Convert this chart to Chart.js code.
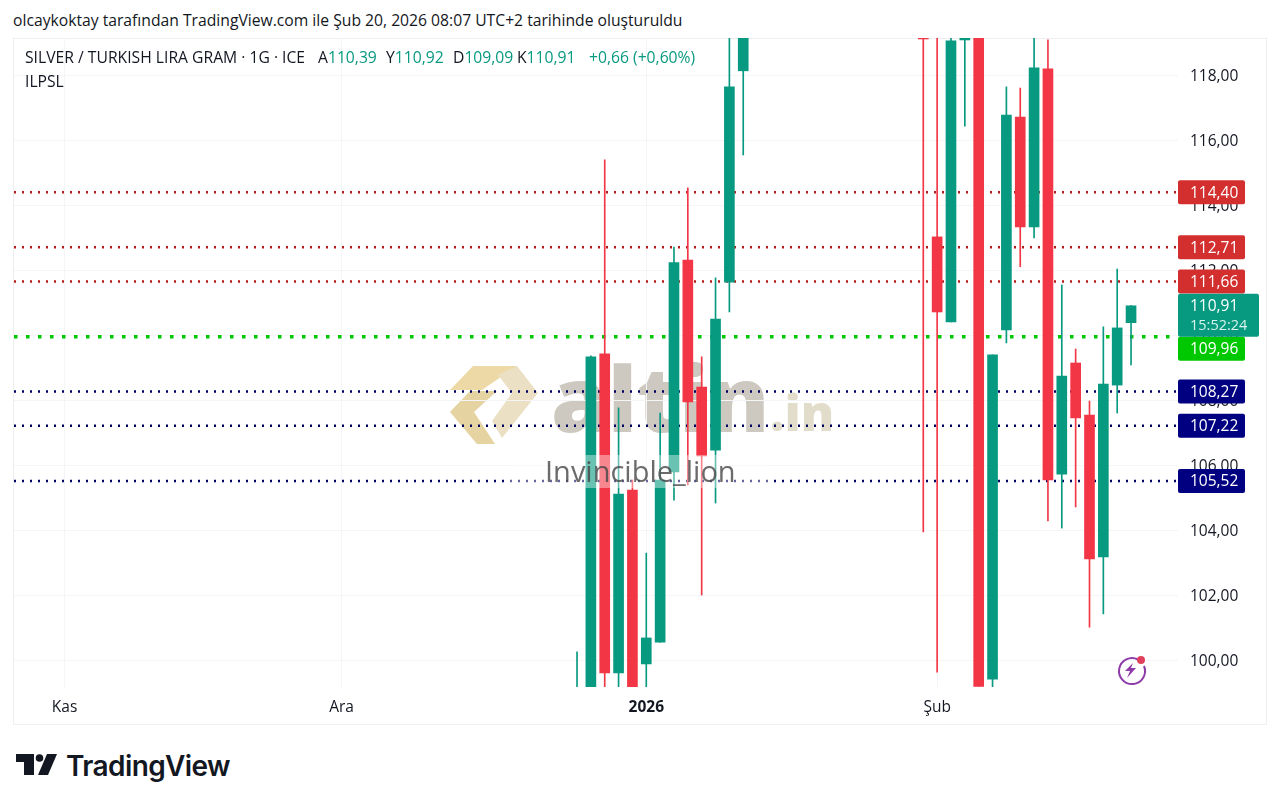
<!DOCTYPE html>
<html lang="tr">
<head>
<meta charset="utf-8">
<title>SILVER / TURKISH LIRA GRAM</title>
<script src="https://cdn.jsdelivr.net/npm/chart.js@4"></script>
<style>
  html, body { margin: 0; background: #fff; }
  body { position: relative; width: 1280px; height: 806px; overflow: hidden; font-family: 'Open Sans', sans-serif; color: #131722; }
  .abs { position: absolute; white-space: nowrap; }
  #chart { position: absolute; left: 0; top: 0; z-index: 2; }
  #panel { position: absolute; left: 13px; top: 38px; width: 1252px; height: 685px; border: 1px solid #efefef; }
  #created { left: 13px; top: 10px; font-size: 15.7px; line-height: 21px; }
  #legend { left: 25px; top: 47px; font-size: 15.7px; line-height: 21px; z-index: 3; }
  #legend b { font-weight: 400; color: #089981; }
  #legend span { position: absolute; top: 0; }
  #study { left: 25px; top: 71px; font-size: 15.7px; line-height: 21px; z-index: 3; }
  #wm-altin { left: 551px; top: 342px; font: 800 91px/110px 'Open Sans', sans-serif; color: #cdc9c0; z-index: 1; }
  #wm-in { left: 770px; top: 382px; font: 800 50px/60px 'Open Sans', sans-serif; color: #e2dccb; z-index: 1; }
  #wm-logo { left: 450px; top: 366px; z-index: 1; }
  #band { left: 508px; top: 455px; width: 260px; height: 33px; background: rgba(255,255,255,.4); z-index: 3; }
  #wm-user { left: 545px; top: 453px; font-size: 29px; line-height: 36px; color: rgba(70,70,70,.8); z-index: 4; }
  #tv-text { left: 66px; top: 747px; font: 600 28px/38px Inter, sans-serif; letter-spacing: -.6px; color: #131722; }
</style>
</head>
<body>
<div id="panel"></div>
<div class="abs" id="created">olcaykoktay tarafından TradingView.com ile Şub 20, 2026 08:07 UTC+2 tarihinde oluşturuldu</div>

<svg class="abs" id="wm-logo" width="90" height="80" viewBox="0 0 90 80">
  <polygon points="23,0 67,0 32,24 0,24" fill="#ecd9a6"/>
  <polygon points="67,0 88,27 52,72 42,55 62,27 48,9" fill="#ece0c4"/>
  <polygon points="0,46 20,25 47,25 24,46 45,78 27,78" fill="#e6d3a2"/>
</svg>
<div class="abs" id="wm-altin">altin</div>
<div class="abs" id="wm-in">.in</div>

<canvas id="chart" width="1280" height="806"></canvas>

<div class="abs" id="legend">
  <span style="left:0">SILVER / TURKISH LIRA GRAM · 1G · ICE</span>
  <span style="left:293px">A<b>110,39</b></span>
  <span style="left:361px">Y<b>110,92</b></span>
  <span style="left:428px">D<b>109,09</b></span>
  <span style="left:492px">K<b>110,91</b></span>
  <span style="left:564px"><b>+0,66 (+0,60%)</b></span>
</div>
<div class="abs" id="study">ILPSL</div>
<div class="abs" id="band"></div>
<div class="abs" id="wm-user">Invincible_lion</div>

<svg class="abs" style="left:1116px;top:654px;z-index:3" width="32" height="32" viewBox="0 0 32 32">
  <path d="M22 5.5 A13 13 0 1 0 28 12" fill="none" stroke="#8e3aa8" stroke-width="2"/>
  <polygon points="17,9 9,17 14,17 11,24 20,14 15,14" fill="#8e3aa8"/>
  <circle cx="25" cy="6" r="4" fill="#e0405a"/>
</svg>

<svg class="abs" style="left:16px;top:754px" width="42" height="22" viewBox="0 0 42 22">
  <polygon points="0,0 18,0 18,21 8,21 8,8 0,8" fill="#131722"/>
  <circle cx="23.5" cy="4" r="3.8" fill="#131722"/>
  <polygon points="31,0 41,0 32,21 22,21" fill="#131722"/>
</svg>
<div class="abs" id="tv-text">TradingView</div>

<script>
'use strict';

// CHART DATA
const days = [
  '11-03','11-04','11-05','11-06','11-07','11-10','11-11','11-12','11-13','11-14',
  '11-17','11-18','11-19','11-20','11-21','11-24','11-25','11-26','11-27','11-28',
  '12-01','12-02','12-03','12-04','12-05','12-08','12-09','12-10','12-11','12-12',
  '12-15','12-16','12-17','12-18','12-19','12-22','12-23','12-24','12-26','12-29',
  '12-30','12-31','01-02','01-05','01-06','01-07','01-08','01-09','01-12','01-13',
  '01-14','01-15','01-16','01-19','01-20','01-21','01-22','01-23','01-26','01-27',
  '01-28','01-29','01-30','02-02','02-03','02-04','02-05','02-06','02-09','02-10',
  '02-11','02-12','02-13','02-16','02-17','02-18','02-19','02-20'
];

// candles start on this day, null = the candle is off the visible range
const firstCandleDay = '12-24';
const opens = [98.6, 98.8, 109.43, 99.61, 105.24, 99.89, 100.56, 105.80, 112.32, 108.41, 106.47, 111.64, 118.14,
  null, null, null, null, null, null, null, null, null, null, null, null,
  120.0, 113.03, 110.41, 119.09, 121.0, 99.42, 110.17, 116.72, 113.34, 118.20, 105.73, 109.15, 107.55, 103.18, 108.47, 110.39];
const highs = [100.26, 109.37, 115.40, 107.77, 105.55, 103.30, 107.61, 112.72, 114.54, 109.34, 111.77, 119.6, 120.8,
  null, null, null, null, null, null, null, null, null, null, null, null,
  120.4, 119.5, 119.3, 120.5, 121.5, 109.40, 117.65, 117.61, 119.3, 119.09, 111.55, 109.58, 107.98, 110.26, 112.04, 110.92];
const lows = [98.4, 98.6, 99.0, 99.0, 98.8, 99.0, 100.56, 104.93, 105.40, 102.01, 104.84, 110.72, 115.55,
  null, null, null, null, null, null, null, null, null, null, null, null,
  103.95, 99.64, 110.41, 116.44, 99.2, 99.0, 109.77, 112.11, 113.00, 104.29, 104.07, 104.72, 101.02, 101.43, 107.61, 109.09];
const closes = [99.0, 109.34, 99.61, 105.12, 99.0, 100.69, 105.55, 112.24, 107.95, 106.29, 110.50, 117.65, 120.4,
  null, null, null, null, null, null, null, null, null, null, null, null,
  119.12, 110.72, 119.06, 120.2, 99.2, 109.40, 116.78, 113.34, 118.23, 105.55, 108.75, 107.46, 103.12, 108.50, 110.23, 110.91];

const yTicks = [100, 102, 104, 106, 108, 110, 112, 114, 116, 118];
const xTickDays = ['11-03', '12-01', '01-02', '02-02'];
const xTickLabels = ['Kas', 'Ara', '2026', 'Şub'];

const levels = [114.40, 112.71, 111.66, 109.96, 108.27, 107.22, 105.52];
const levelColors = ['#d32f2f', '#d32f2f', '#d32f2f', '#00c800', '#000080', '#000080', '#000080'];
const levelLineColors = ['#b71c1c', '#b71c1c', '#b71c1c', '#00c800', '#000060', '#000060', '#000060'];
const lastPrice = 110.91;
const countdown = '15:52:24';

const UP = '#089981';
const DOWN = '#f23645';
const FONT = '"Open Sans", sans-serif';
const xMin = -3.65;
const xMax = 80.39;
const yMin = 99.18;
const yMax = 119.15;

// BUILD DATASETS
let start = days.indexOf(firstCandleDay);
let wickData = [];
let bodyData = [];
let candleColors = [];

for (let i = 0; i < opens.length; i++) {
  if (opens[i] === null) continue;
  wickData.push({ x: start + i, y: [lows[i], highs[i]] });
  bodyData.push({ x: start + i, y: [opens[i], closes[i]] });
  candleColors.push(closes[i] >= opens[i] ? UP : DOWN);
}

let datasets = [
  { type: 'bar', data: bodyData, backgroundColor: candleColors, barThickness: 10, grouped: false, order: 1 },
  { type: 'bar', data: wickData, backgroundColor: candleColors, barThickness: 1, grouped: false, order: 2 }
];

levels.forEach(function (level, i) {
  let isMain = levelColors[i] === '#00c800';
  datasets.push({
    type: 'line',
    data: [{ x: xMin, y: level }, { x: xMax, y: level }],
    borderColor: levelLineColors[i],
    borderWidth: isMain ? 3.5 : 2.5,
    borderDash: isMain ? [3.5, 8.5] : [2, 6],
    pointRadius: 0,
    order: 3
  });
});

function priceText(v) {
  return v.toFixed(2).replace('.', ',');
}

// price tags on the right hand axis
const priceTags = {
  id: 'priceTags',
  afterDraw(chart) {
    const ctx = chart.ctx;
    const y = chart.scales.y;
    const left = chart.chartArea.right;
    let lastY = y.getPixelForValue(lastPrice);
    ctx.save();
    ctx.font = '15.5px ' + FONT;
    ctx.textBaseline = 'middle';
    levels.forEach(function (level, i) {
      let py = y.getPixelForValue(level);
      // a tag that runs into the last price box gets pushed below it
      if (py > lastY - 12 && py < lastY + 43) py = lastY + 43;
      ctx.fillStyle = levelColors[i];
      ctx.beginPath();
      ctx.roundRect(left, py - 12, 67, 24, 2);
      ctx.fill();
      ctx.fillStyle = '#fff';
      ctx.fillText(priceText(level), left + 12, py + 1);
    });
    ctx.fillStyle = UP;
    ctx.beginPath();
    ctx.roundRect(left, lastY - 12, 81, 43, 2);
    ctx.fill();
    ctx.fillStyle = '#fff';
    ctx.fillText(priceText(lastPrice), left + 12, lastY + 1);
    ctx.fillStyle = '#d8f3ec';
    ctx.font = '14.5px ' + FONT;
    ctx.fillText(countdown, left + 12, lastY + 20);
    ctx.restore();
  }
};

new Chart(document.getElementById('chart'), {
  type: 'bar',
  data: { datasets: datasets },
  plugins: [priceTags],
  options: {
    responsive: false,
    animation: false,
    devicePixelRatio: 1,
    layout: { padding: { left: 14, top: 38, right: 13, bottom: 82 } },
    plugins: { legend: { display: false }, tooltip: { enabled: false } },
    scales: {
      x: {
        type: 'linear',
        offset: false,
        min: xMin,
        max: xMax,
        afterFit(scale) { scale.height = 37; },
        afterBuildTicks(scale) {
          scale.ticks = xTickDays.map(d => ({ value: days.indexOf(d) }));
        },
        grid: { color: '#f4f5f7', drawTicks: false, offset: false },
        border: { display: false },
        ticks: {
          autoSkip: false,
          maxRotation: 0,
          padding: 11,
          color: '#131722',
          font: ctx => ({
            family: FONT,
            size: 15.5,
            weight: xTickDays[2] === days[ctx.tick && ctx.tick.value] ? '700' : '400'
          }),
          callback: v => xTickLabels[xTickDays.indexOf(days[v])]
        }
      },
      y: {
        position: 'right',
        min: yMin,
        max: yMax,
        afterFit(scale) { scale.width = 89; },
        afterBuildTicks(scale) {
          scale.ticks = yTicks.map(v => ({ value: v }));
        },
        grid: { color: '#f4f5f7', drawTicks: false },
        border: { display: false },
        ticks: {
          padding: 12,
          labelOffset: 1,
          color: '#131722',
          font: { family: FONT, size: 15.5 },
          callback: v => priceText(v)
        }
      }
    }
  }
});
</script>
</body>
</html>
